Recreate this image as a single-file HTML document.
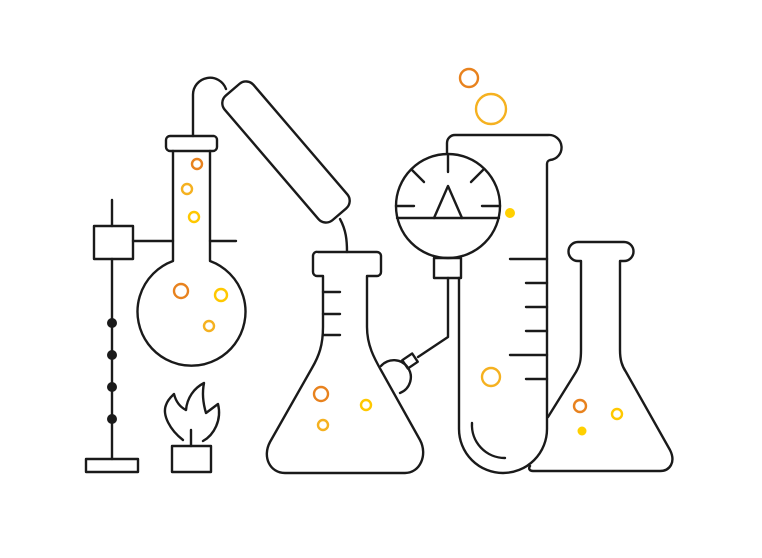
<!DOCTYPE html>
<html><head><style>html,body{margin:0;padding:0;background:#fff}svg{display:block}</style></head>
<body>
<svg width="762" height="558" viewBox="0 0 762 558" xmlns="http://www.w3.org/2000/svg">
<g fill="none" stroke="#1a1a1a" stroke-width="2.4" stroke-linejoin="round" stroke-linecap="round">
<!-- stand -->
<line x1="112" y1="200" x2="112" y2="226"/>
<rect x="94" y="226" width="39" height="33"/>
<line x1="112" y1="259" x2="112" y2="459"/>
<rect x="86" y="459" width="52" height="13"/>
<line x1="133" y1="241" x2="173" y2="241"/>
<!-- round flask -->
<path d="M173,151 V261 A54,54 0 1 0 210,261 V151"/>
<path d="M170,136 H214 A4,4 0 0 1 217,140 V147 A4,4 0 0 1 213,151 H170 A4,4 0 0 1 166,147 V140 A4,4 0 0 1 170,136 Z"/>
<line x1="210" y1="241" x2="236" y2="241"/>
<path d="M193,136 V95 A17,17 0 0 1 226,89"/>
<!-- condenser -->
<rect x="204" y="133" width="164" height="38" rx="10" transform="rotate(49.4 286 152)" fill="#fff"/>
<path d="M340,219 C346,230 347,240 347,252"/>
<!-- flask 1 -->
<path d="M318,252 H377 A4,4 0 0 1 381,256 V272 A4,4 0 0 1 377,276 H367 V327 C367,345 374,358 382,372 L420,440 C428,455 420,473 405,473 H285 C270,473 262,457 270,442 L312,368 C319,356 323,345 323,327 V276 H317 A4,4 0 0 1 313,272 V256 A4,4 0 0 1 318,252 Z"/>
<line x1="323" y1="292" x2="340" y2="292"/>
<line x1="323" y1="314" x2="340" y2="314"/>
<line x1="323" y1="335" x2="340" y2="335"/>
<!-- gauge -->
<circle cx="448" cy="206" r="52"/>
<line x1="397" y1="218" x2="499" y2="218"/>
<path d="M434,218 L448,186 L462,218"/>
<line x1="448" y1="155" x2="448" y2="172"/>
<line x1="412" y1="170" x2="424" y2="182"/>
<line x1="483" y1="170" x2="471" y2="182"/>
<line x1="396" y1="206" x2="414" y2="206"/>
<line x1="482" y1="206" x2="500" y2="206"/>
<rect x="434" y="258" width="27" height="20"/>
<path d="M448,278 V337 L418,357"/>
<rect x="404" y="356" width="12" height="10" transform="rotate(-34 410 361)"/>
<path d="M381,366 A17,17 0 1 1 400,393"/>
<!-- test tube -->
<path d="M447,153 V143 A8,8 0 0 1 455,135 H548 A10,10 0 0 1 550,160 A4,4 0 0 0 547,164 V429 A44,44 0 0 1 459,429 V278"/>
<path d="M472,423 A33,33 0 0 0 505,458"/>
<line x1="510" y1="259" x2="547" y2="259"/>
<line x1="526" y1="283" x2="547" y2="283"/>
<line x1="526" y1="307" x2="547" y2="307"/>
<line x1="526" y1="331" x2="547" y2="331"/>
<line x1="510" y1="355" x2="547" y2="355"/>
<line x1="526" y1="379" x2="547" y2="379"/>
<!-- flask 3 -->
<path d="M548,417 L576,372 C580,365 581,360 581,350 V261 H578 A9,9 0 0 1 578,242 H624 A9,9 0 0 1 624,261 H620 V350 C620,360 622,366 626,372 L670,450 C676,462 670,471 660,471 H533 C530,471 528,469 530,466"/>
<!-- burner -->
<rect x="172" y="446" width="39" height="26"/>
<line x1="191" y1="430" x2="191" y2="446"/>
<path d="M183,440 C170,430 162,415 166,405 C168,399 172,396 174,394 C176,402 180,407 186,410 C187,398 194,388 204,383 C202,393 203,403 206,413 C210,410 214,407 218,404 C222,420 214,435 203,441"/>
</g>
<g fill="#1a1a1a"><circle cx="112" cy="323" r="5"/><circle cx="112" cy="355" r="5"/><circle cx="112" cy="387" r="5"/><circle cx="112" cy="419" r="5"/></g>
<g fill="none" stroke-width="2.4">
<circle cx="469" cy="78" r="9" stroke="#E8821E"/>
<circle cx="491" cy="109" r="15" stroke="#F5B120"/>
<circle cx="491" cy="377" r="9" stroke="#F5B120"/>
<circle cx="580" cy="406" r="6" stroke="#E8821E"/>
<circle cx="617" cy="414" r="5" stroke="#FFC800"/>
<circle cx="321" cy="394" r="7" stroke="#E8821E"/>
<circle cx="366" cy="405" r="5" stroke="#FFC800"/>
<circle cx="323" cy="425" r="5" stroke="#F5B120"/>
<circle cx="197" cy="164" r="5" stroke="#E8821E"/>
<circle cx="187" cy="189" r="5" stroke="#F5B120"/>
<circle cx="194" cy="217" r="5" stroke="#FFC800"/>
<circle cx="181" cy="291" r="7" stroke="#E8821E"/>
<circle cx="221" cy="295" r="6" stroke="#FFC800"/>
<circle cx="209" cy="326" r="5" stroke="#F5B120"/>
</g>
<circle cx="510" cy="213" r="5" fill="#FFD000"/>
<circle cx="582" cy="431" r="4.5" fill="#FFD000"/>
</svg>
</body></html>
